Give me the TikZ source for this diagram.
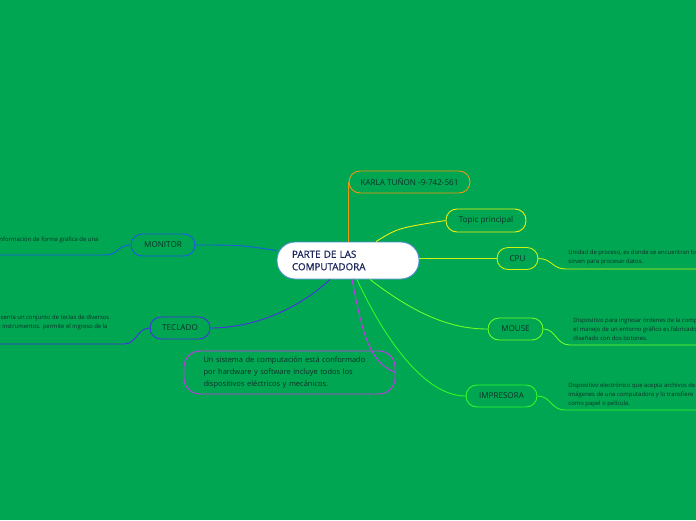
\documentclass[tikz,border=0pt]{standalone}
\usepackage{fontspec}
\setmainfont{Open Sans}
\newfontfamily\ctrfont[FakeBold=0.9]{Open Sans}
\usepackage{tikz}
\usetikzlibrary{positioning}
\definecolor{bggreen}{RGB}{0,166,81}
\definecolor{inkdark}{RGB}{16,48,40}
\definecolor{navy}{RGB}{28,38,92}
\definecolor{ctrblue}{RGB}{80,140,210}
\definecolor{brorange}{RGB}{240,150,10}
\definecolor{bryellow}{RGB}{235,240,20}
\definecolor{brlime}{RGB}{200,245,20}
\definecolor{brmouse}{RGB}{110,255,40}
\definecolor{brprint}{RGB}{50,250,40}
\definecolor{brblue}{RGB}{30,90,230}
\definecolor{brpurple}{RGB}{70,50,225}
\definecolor{brmagenta}{RGB}{205,50,240}
\begin{document}
\begin{tikzpicture}[x=1pt, y=-1pt, line width=0.9pt, font=\fontsize{8.1}{9}\selectfont]
\tikzstyle{pill}=[draw, rounded corners=11pt, minimum height=22pt, inner sep=2pt, text=inkdark]
\tikzstyle{leaf}=[inner sep=0pt, align=left, text=inkdark, font=\fontsize{5.9}{9}\selectfont]
\fill[bggreen] (0,0) rectangle (696,520);
\useasboundingbox (0,0) rectangle (696,520);
\clip (0,0) rectangle (696,520);
% central topic
\node[draw=ctrblue, fill=white, rounded corners=18pt, minimum width=142pt, minimum height=37pt, text width=112pt, align=left, text=navy, font=\ctrfont\fontsize{9.8}{12.5}\selectfont] (ctr) at (348,260.5) {PARTE DE LAS\\COMPUTADORA};
% main branches
\node[pill, draw=brorange, minimum width=121pt] (karla) at (409.5,182) {KARLA TUÑON -9-742-561};
\node[pill, draw=bryellow, minimum width=80pt, minimum height=23pt] (topic) at (486,220.5) {Topic principal};
\node[pill, draw=brlime, minimum width=41pt] (cpu) at (517.5,258.5) {CPU};
\node[pill, draw=brmouse, minimum width=55pt] (mouse) at (515.5,329) {MOUSE};
\node[pill, draw=brprint, minimum width=71pt] (impr) at (501.5,396) {IMPRESORA};
\node[pill, draw=brblue, minimum width=64pt] (monitor) at (163,245) {MONITOR};
\node[pill, draw=brpurple, minimum width=60pt] (teclado) at (180,328) {TECLADO};
\node[draw=brmagenta, rounded corners=16pt, minimum width=211pt, minimum height=43pt, text width=172pt, align=left, text=inkdark, font=\fontsize{7.5}{12}\selectfont] (sistema) at (289.5,372.5) {Un sistema de computación está conformado\\por hardware y software incluye todos los\\dispositivos eléctricos y mecánicos.};
% connectors
\draw[brorange] (ctr.north) -- (karla.west -| ctr.north);
\draw[bryellow] ([xshift=28pt]ctr.north) .. controls (398,228) .. (topic.west);
\draw[brlime] (ctr.east |- cpu.west) -- (cpu.west);
\draw[brmouse] ([xshift=22pt]ctr.south) .. controls (420,318) and (455,329) .. (mouse.west);
\draw[brprint] ([xshift=9pt]ctr.south) .. controls (385,340) and (425,396) .. (impr.west);
\draw[brmagenta] ([xshift=4pt]ctr.south) .. controls (362,330) and (368,362) .. (sistema.east);
\draw[brblue] (monitor.east) .. controls (240,245) .. ([yshift=10pt]ctr.west);
\draw[brpurple] ([xshift=-18pt]ctr.south) .. controls (295,312) and (250,328) .. (teclado.east);
% leaf texts
\coordinate (monend) at (0,255);
\coordinate (tecend) at (0,344);
\coordinate (cpuend) at (696,269);
\coordinate (mouend) at (696,345);
\coordinate (impend) at (696,410);
\draw[brblue] (monitor.west) .. controls (118,245) and (118,255) .. (105,255) -- (monend);
\draw[brpurple] (teclado.west) .. controls (137,328) and (137,344) .. (124,344) -- (tecend);
\draw[brlime] (cpu.east) .. controls (552,258.5) and (552,269) .. (566,269) -- (cpuend);
\draw[brmouse] (mouse.east) .. controls (556,329) and (556,345) .. (570,345) -- (mouend);
\draw[brprint] (impr.east) .. controls (551,396) and (551,410) .. (565,410) -- (impend);
\node[leaf, anchor=west] (montxt) at (-1,240) {nformación de forma grafica de una};
\node[leaf, anchor=west] (tectxt) at (-3,322.5) {esenta un conjunto de teclas de diversos\\e instrumentos. permite el ingreso de la};
\node[leaf, anchor=west] (cputxt) at (568,257.5) {Unidad de proceso, es donde se encuentran los\\sirven para procesar datos.};
\node[leaf, anchor=west] (moutxt) at (573,329) {Dispositivo para ingresar órdenes de la computadora\\el manejo de un entorno gráfico es fabricado\\diseñado con dos botones.};
\node[leaf, anchor=west] (imptxt) at (568,395) {Dispositivo electrónico que acepta archivos de\\imágenes de una computadora y lo transfiere\\como papel o película.};
\end{tikzpicture}
\end{document}
